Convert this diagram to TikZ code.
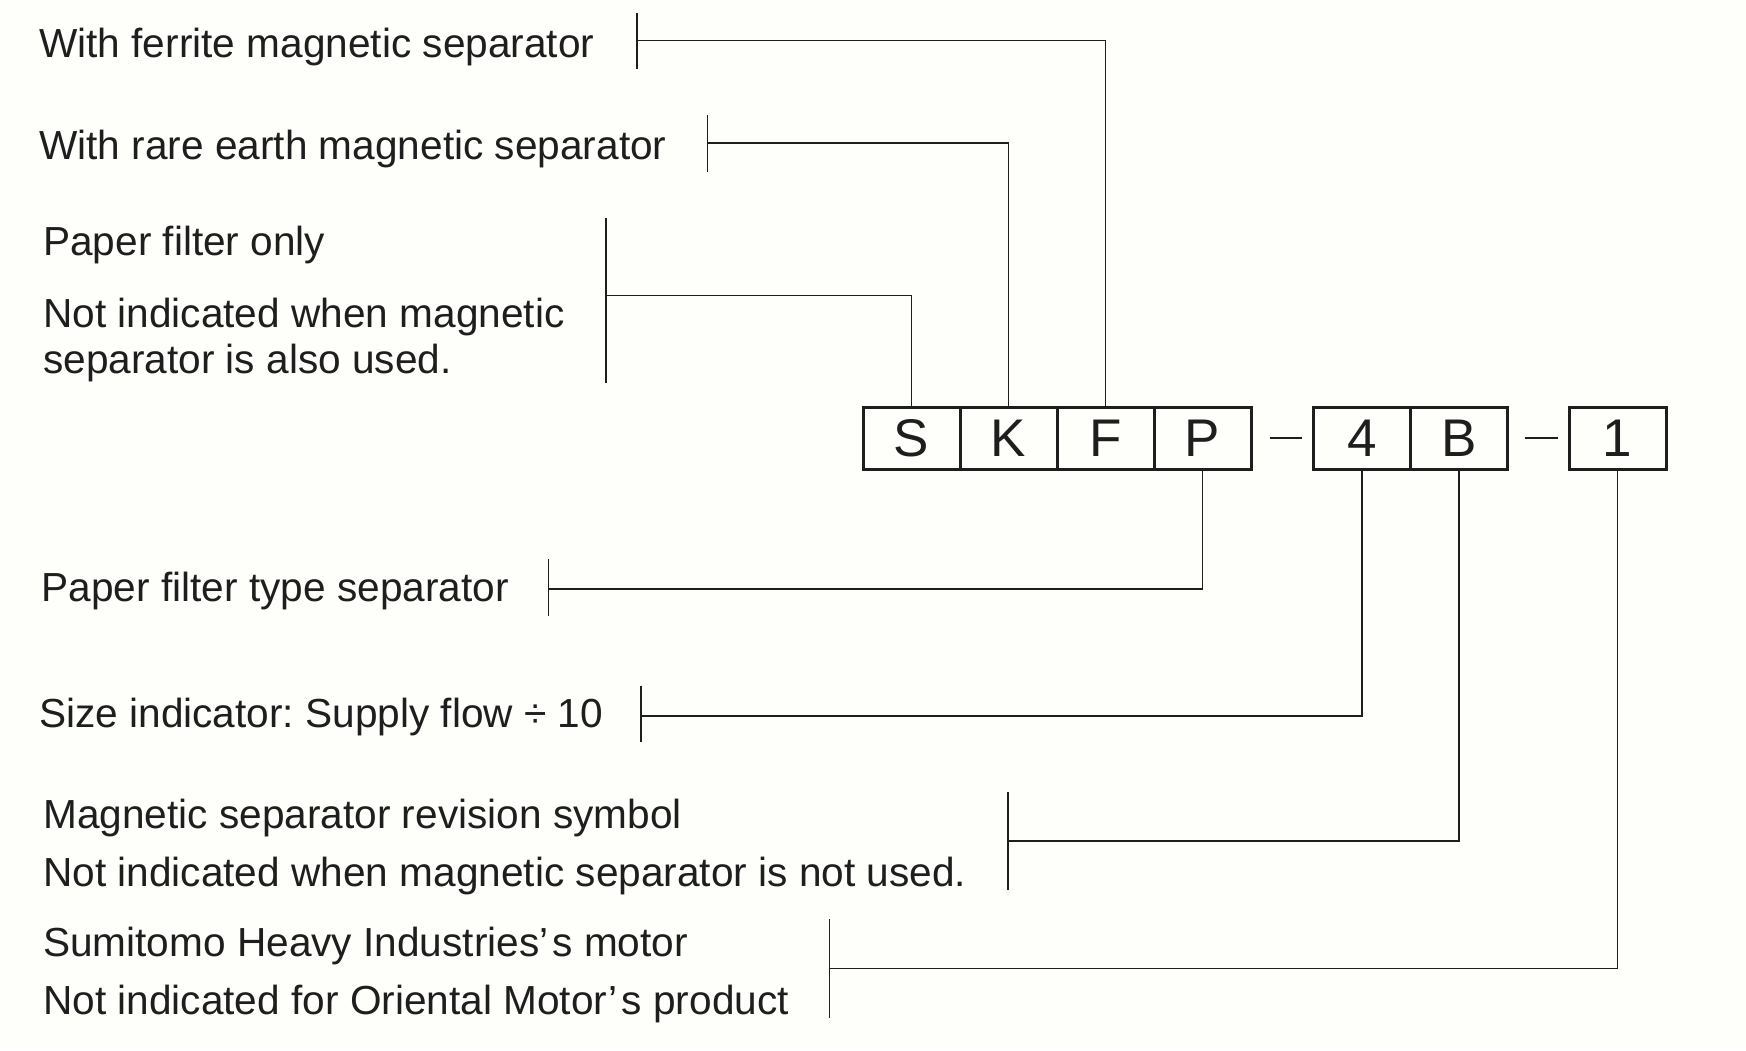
\documentclass[tikz,border=0pt]{standalone}
\usepackage{fontspec}
\setmainfont{Liberation Sans}
\definecolor{paper}{RGB}{254,254,251}
\definecolor{ink}{RGB}{30,30,30}
\frenchspacing
\begin{document}
\begin{tikzpicture}[x=1pt,y=-1pt,
  lbl/.style={anchor=base west,inner sep=0pt,text=ink,font=\fontsize{40.6}{44}\selectfont},
  cell/.style={draw=ink,line width=3pt,minimum width=97pt,minimum height=62pt,inner sep=0pt,
    text=ink,font=\fontsize{53}{56}\selectfont},
  lead/.style={draw=ink,line width=1.6pt},
  tick/.style={draw=ink,line width=1.6pt}]
\fill[paper] (0,0) rectangle (1746,1050);
\useasboundingbox (0,0) rectangle (1746,1050);

% code boxes
\node[cell] (S) at (911.5,438) {S};
\node[cell] (K) at (1008.5,438) {K};
\node[cell] (F) at (1105.5,438) {F};
\node[cell] (P) at (1202.5,438) {P};
\node[cell] (n4) at (1362,438) {4};
\node[cell] (B) at (1459,438) {B};
\node[cell] (n1) at (1617.5,438) {1};
\draw[lead] ([xshift=17pt]P.east) -- ([xshift=49pt]P.east);
\draw[lead] ([xshift=16pt]B.east) -- ([xshift=49pt]B.east);

% labels
\node[lbl] (t1) at (39,57.3) {With ferrite magnetic separator};
\node[lbl] (t2) at (39,159.3) {With rare earth magnetic separator};
\node[lbl] (t3) at (43,255) {Paper filter only};
\node[lbl] (t4) at (43,327.5) {Not indicated when magnetic};
\node[lbl] (t5) at (43,373) {separator is also used.};
\node[lbl] (t6) at (41.5,601.7) {Paper filter type separator};
\node[lbl] (t7) at (39,727.7) {Size indicator: Supply flow ÷ 10};
\node[lbl] (t8) at (43,828.3) {Magnetic separator revision symbol};
\node[lbl] (t9) at (43,886) {Not indicated when magnetic separator is not used.};
\node[lbl] (t10) at (43,956.7) {Sumitomo Heavy Industries’\kern4pt s motor};
\node[lbl] (t11) at (43,1014) {Not indicated for Oriental Motor’\kern4pt s product};

% ticks and leaders
\coordinate (cF) at (636.7,40.3);
\draw[tick] (636.7,12.7) -- (636.7,69.3);
\draw[lead] (cF) -| (F.north);

\coordinate (cK) at (707.3,142.7);
\draw[tick] (707.3,115) -- (707.3,171.7);
\draw[lead] (cK) -| (K.north);

\coordinate (cS) at (605.8,295.3);
\draw[tick] (605.8,218.3) -- (605.8,382.7);
\draw[lead] (cS) -| (S.north);

\coordinate (cP) at (548.5,589);
\draw[tick] (548.5,559) -- (548.5,616);
\draw[lead] (cP) -| (P.south);

\coordinate (c4) at (641,715.7);
\draw[tick] (641,685.7) -- (641,741.6);
\draw[lead] (c4) -| (n4.south);

\coordinate (cB) at (1008,841);
\draw[tick] (1008,791.7) -- (1008,890);
\draw[lead] (cB) -| (B.south);

\coordinate (c1) at (829.3,968.3);
\draw[tick] (829.3,919) -- (829.3,1018);
\draw[lead] (c1) -| (n1.south);
\end{tikzpicture}
\end{document}
